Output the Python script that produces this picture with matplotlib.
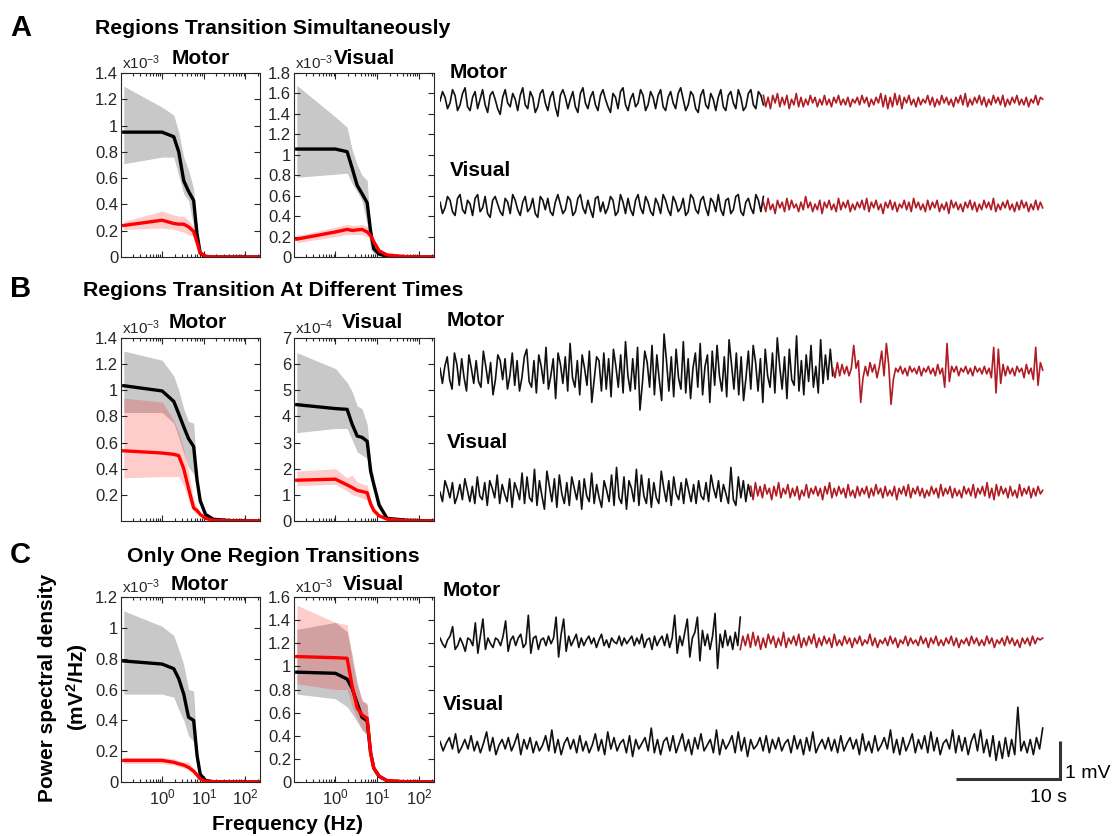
import numpy as np
import matplotlib
matplotlib.use('Agg')
import matplotlib.pyplot as plt
from matplotlib.ticker import LogLocator, NullFormatter

plt.rcParams['font.family'] = ['Liberation Sans', 'DejaVu Sans']
plt.rcParams['mathtext.fontset'] = 'custom'
plt.rcParams['mathtext.rm'] = 'Liberation Sans'
plt.rcParams['mathtext.it'] = 'Liberation Sans:italic'
plt.rcParams['mathtext.bf'] = 'Liberation Sans:bold'

# ---- PSD data (Hz, values in units of the x10^n label) ----
FREQ = [0.12, 1.0, 1.9, 2.5, 3.3, 4.3, 5.7, 6.9, 8.2, 11, 17, 50, 220]

# A - Motor (x1e-3)
A_MOT_K = [0.95, 0.95, 0.915, 0.80, 0.58, 0.50, 0.43, 0.17, 0.03, 0.005, 0, 0, 0]
A_MOT_K_HI = [1.30, 1.14, 1.08, 0.95, 0.76, 0.66, 0.52, 0.15, 0.03, 0.01, 0.003, 0, 0]
A_MOT_K_LO = [0.71, 0.76, 0.76, 0.62, 0.48, 0.43, 0.23, 0.05, 0.01, 0, 0, 0, 0]
A_MOT_R = [0.24, 0.28, 0.255, 0.25, 0.25, 0.23, 0.195, 0.11, 0.03, 0.005, 0, 0, 0]
A_MOT_R_HI = [0.27, 0.35, 0.32, 0.31, 0.31, 0.28, 0.23, 0.13, 0.04, 0.01, 0, 0, 0]
A_MOT_R_LO = [0.21, 0.22, 0.21, 0.20, 0.19, 0.17, 0.16, 0.09, 0.02, 0.002, 0, 0, 0]

# A - Visual (x1e-3)
A_VIS_K = [1.056, 1.056, 1.03, 0.87, 0.70, 0.62, 0.53, 0.25, 0.08, 0.03, 0.005, 0, 0]
A_VIS_K_HI = [1.68, 1.37, 1.27, 1.05, 0.90, 0.80, 0.75, 0.25, 0.10, 0.04, 0.01, 0, 0]
A_VIS_K_LO = [0.78, 0.81, 0.82, 0.72, 0.64, 0.55, 0.32, 0.08, 0.03, 0.01, 0, 0, 0]
A_VIS_R = [0.175, 0.245, 0.27, 0.26, 0.265, 0.27, 0.245, 0.21, 0.15, 0.06, 0.02, 0.003, 0]
A_VIS_R_HI = [0.21, 0.29, 0.32, 0.31, 0.31, 0.32, 0.30, 0.24, 0.17, 0.07, 0.025, 0.005, 0]
A_VIS_R_LO = [0.14, 0.20, 0.22, 0.22, 0.22, 0.22, 0.20, 0.18, 0.12, 0.05, 0.015, 0.002, 0]

# B - Motor (x1e-3)
B_MOT_K = [1.035, 0.995, 0.915, 0.82, 0.72, 0.63, 0.57, 0.31, 0.155, 0.05, 0.013, 0.002, 0]
B_MOT_K_HI = [1.30, 1.23, 1.11, 1.0, 0.86, 0.76, 0.75, 0.35, 0.17, 0.06, 0.015, 0.002, 0]
B_MOT_K_LO = [0.83, 0.83, 0.75, 0.64, 0.52, 0.41, 0.36, 0.26, 0.14, 0.04, 0.01, 0, 0]
B_MOT_R = [0.537, 0.52, 0.51, 0.50, 0.40, 0.25, 0.10, 0.08, 0.05, 0.02, 0.005, 0, 0]
B_MOT_R_HI = [0.94, 0.91, 0.77, 0.68, 0.55, 0.38, 0.16, 0.10, 0.06, 0.025, 0.006, 0, 0]
B_MOT_R_LO = [0.33, 0.34, 0.34, 0.34, 0.27, 0.16, 0.07, 0.06, 0.04, 0.015, 0.004, 0, 0]

# B - Visual (x1e-4)
B_VIS_K = [4.45, 4.30, 4.27, 3.7, 3.25, 3.2, 3.05, 1.9, 1.4, 0.6, 0.1, 0.03, 0]
B_VIS_K_HI = [6.44, 5.83, 5.3, 4.95, 4.4, 4.3, 3.7, 2.3, 1.6, 0.8, 0.15, 0.04, 0]
B_VIS_K_LO = [3.38, 3.54, 3.54, 3.1, 2.65, 2.52, 2.4, 1.6, 1.2, 0.45, 0.07, 0.02, 0]
B_VIS_R = [1.56, 1.60, 1.38, 1.28, 1.17, 1.13, 1.08, 0.65, 0.40, 0.20, 0.07, 0.01, 0]
B_VIS_R_HI = [1.91, 2.0, 1.65, 1.75, 1.5, 1.42, 1.37, 0.8, 0.55, 0.25, 0.09, 0.015, 0]
B_VIS_R_LO = [1.35, 1.40, 1.15, 1.0, 0.95, 0.88, 0.80, 0.5, 0.28, 0.15, 0.05, 0.005, 0]

# C - Motor (x1e-3)
C_MOT_K = [0.785, 0.765, 0.735, 0.67, 0.57, 0.42, 0.40, 0.17, 0.05, 0.01, 0.002, 0, 0]
C_MOT_K_HI = [1.11, 1.01, 0.95, 0.86, 0.76, 0.60, 0.59, 0.2, 0.06, 0.015, 0.003, 0, 0]
C_MOT_K_LO = [0.57, 0.57, 0.55, 0.47, 0.40, 0.30, 0.26, 0.12, 0.04, 0.005, 0, 0, 0]
C_MOT_R = [0.14, 0.14, 0.128, 0.118, 0.11, 0.095, 0.07, 0.045, 0.02, 0.005, 0.002, 0, 0]
C_MOT_R_HI = [0.16, 0.16, 0.15, 0.14, 0.13, 0.13, 0.09, 0.055, 0.025, 0.007, 0.002, 0, 0]
C_MOT_R_LO = [0.12, 0.12, 0.11, 0.10, 0.09, 0.08, 0.055, 0.035, 0.015, 0.004, 0.001, 0, 0]

# C - Visual (x1e-3)
C_VIS_K = [0.95, 0.94, 0.89, 0.81, 0.68, 0.56, 0.53, 0.25, 0.12, 0.05, 0.01, 0, 0]
C_VIS_K_HI = [1.32, 1.38, 1.30, 1.1, 0.85, 0.70, 0.68, 0.3, 0.14, 0.06, 0.015, 0, 0]
C_VIS_K_LO = [0.76, 0.72, 0.65, 0.59, 0.52, 0.45, 0.41, 0.15, 0.08, 0.03, 0.005, 0, 0]
C_VIS_R = [1.085, 1.075, 1.07, 0.83, 0.64, 0.58, 0.55, 0.25, 0.12, 0.05, 0.012, 0.002, 0]
C_VIS_R_HI = [1.53, 1.38, 1.36, 1.05, 0.85, 0.72, 0.66, 0.3, 0.14, 0.06, 0.015, 0.003, 0]
C_VIS_R_LO = [0.85, 0.80, 0.80, 0.65, 0.55, 0.46, 0.40, 0.2, 0.10, 0.04, 0.008, 0.001, 0]

# ---- LFP traces, values in units of 0.05 mV; segment lengths in s ----
UNIT_MV = 0.05

A_MOT_BLACK = [0, 5, 2, -4, -1, 6, 3, -5, -2, 4, 7, -3, -5, 2, 5, -4, 1, 6, -2, -6, 3, 5, 1, -4, -7, 2,
               6, -1, -3, 4, 1, -5, 3, 7, -2, -4, 5, 2, -6, -3, 4, 6, -1, -5, 2, 5, -3, -8, 3, 6, 2, -4,
               1, 5, -3, -6, 4, 7, -1, -4, 2, 5, -2, -5, 3, 6, 1, -3, -6, 4, 2, -4, 5, 7, -2, -5, 1, 4,
               -3, -1, 6, 3, -5, -2, 5, 2, -4, 3, 6, -3, -5, 2, 5, -1, -4, 4, 7, 1, -5, -2, 5, 3, -4,
               -6, 3, 6, -2, -4, 4, 1, -5, 2, 6, -3, -5, 3, 5, -1, -4, 6, 2, -5, -3, 4, 6, -2, -4, 5, 3, -2]
A_MOT_RED = [3, -3, 2, -4, 3, -1, 4, -3, 2, -2, 3, -4, 1, -2, 4, -3, 2, -3, 1, -2, 3, -1, 2, -3, 1, -2,
             3, -2, 1, -3, 2, -1, 3, -2, 1, -2, 2, -3, 1, -1, 2, -2, 3, -1, 2, -3, 1, -2, 2, -1, 4, -3,
             3, -4, 2, -3, 4, -2, 3, -4, 2, -1, 3, -2, 1, -3, 2, -2, 1, -1, 3, -2, 2, -3, 1, -2, 3, -1,
             2, -2, 1, -3, 2, -1, 3, -2, 4, -3, 1, -2, 2, -1, 3, -2, 2, -3, 1, -2, 3, -1, 2, -2, 3, -3,
             1, -2, 2, -1, 3, -2, 1, -2, 2, -3, 1, -1, 3, -2, 2, 1]
A_VIS_BLACK = [2, -4, -1, 5, 3, -3, -5, 4, 6, -2, -4, 3, 1, -5, 4, 6, -3, -1, 5, -4, -6, 3, 5, 1, -3, -5,
               4, 2, -4, 6, 3, -2, -5, 2, 5, -3, -1, 4, -4, -6, 5, 3, -2, 4, -3, -5, 2, 6, 1, -4, -2, 5,
               3, -5, -3, 4, 6, -1, -4, 3, -2, -6, 4, 5, -3, 2, -4, -1, 5, 3, -5, -3, 6, 2, -4, 4, -2,
               -5, 3, 6, -1, -4, 5, 2, -3, -5, 4, 1, -4, 6, 3, -2, -5, 5, 2, -3, -1, 4, -5, -3, 6, 4,
               -2, -4, 3, 5, -1, -5, 4, 2, -3, 6, -2, -5, 3, 4, -4, -2, 5, 6, -3, -5, 2, 4, -1, -4, 6, 3, -3, 5]
A_VIS_RED = [2, -3, 4, -2, 1, -4, 3, -1, 2, -3, 4, -2, 3, -1, 1, -3, 2, -2, 5, -1, 2, -3, 1, -2, 3, -4,
             2, -1, 3, -2, 1, -3, 4, -2, 2, -1, 3, -3, 1, -2, 2, -1, 3, -2, 4, -3, 2, -1, 3, -2, 1, -4,
             2, -1, 3, -2, 2, -3, 1, -1, 3, -2, 2, -3, 4, -1, 2, -2, 1, -3, 3, -2, 2, -1, 3, -3, 1, -2,
             2, -4, 3, -1, 2, -2, 1, -3, 2, -1, 3, -2, 2, -3, 1, -2, 3, -1, 2, -2, 4, -3, 1, -2, 2, -1,
             3, -2, 1, -3, 2, -2, 3, -1, 2, -3, 1, -2, 3, -2, 2, -1]
A_SEG = [30.8, 26.6]

B_MOT_BLACK = [2, -6, 3, 8, -4, -9, 10, 4, -7, 7, -3, -10, 9, 2, -6, 6, -5, -8, 11, 3, -6, 5, -12, -4, 9,
               6, -4, 7, -9, -2, 10, -7, 6, -10, -3, 8, 12, -5, -8, 6, -11, 9, 3, -6, 13, -9, -2, 7, -14,
               10, 4, -6, 8, -10, 15, -3, -8, 6, -12, 9, 2, -7, 11, -16, -4, 8, 6, -10, 10, -9, 7, -13,
               12, 3, -8, 9, -11, 16, -2, -10, 7, -9, 13, -20, -6, 11, 5, -8, 14, -12, 9, -4, -15, 20, 6,
               -10, 8, -13, 12, -3, -9, 16, -11, 7, -14, 2, 10, -8, 15, -12, 3, 9, -16, 11, -7, 14, -2,
               -10, 8, -13, 17, 4, -9, 10, -12, 8, -15, -3, 11, -9, 14, 5, -10, 7, -16, 12, -2, -8, 10,
               -11, 18, 3, -9, 8, -14, 12, -4, -7, 19, -10, 6, -12, 9, -5, 14, -8, 3, -11, 17, -6, 9, -4,
               12, -2]
B_MOT_RED = [2, -3, 5, -2, 4, -1, 3, -2, 2, 14, 2, 6, -16, -3, 3, -2, 5, 0, 4, -3, 3, 11, -2, 15, 4, -17,
             -4, 2, 0, 3, -1, 2, -2, 3, 0, 2, -1, 3, -2, 2, 0, 3, -1, 2, -2, 4, -1, 2, -8, 15, -5, 3, 0,
             3, -2, 2, 0, 3, -1, 2, -2, 3, 0, 2, -1, 3, -1, 2, -3, 13, -11, 12, -6, 4, -2, 3, -1, 2, -2,
             3, 0, 2, -3, 4, -1, 2, -4, 13, -7, 5, 1]
B_MOT_SEG = [37.4, 20.0]

B_VIS_BLACK = [0, -5, 6, 2, -3, 5, -6, -2, 4, -4, 7, 1, -5, 3, -6, 8, -2, -4, 5, -7, 6, 2, -3, 9, -6, 4,
               -1, -5, 7, -8, 5, 1, -4, 10, -6, 8, -3, -5, 12, -7, 6, -2, -9, 11, 3, -5, 7, -8, 9, -1,
               -6, 5, -7, 8, 2, -4, 6, -9, 7, -2, -5, 10, -6, 4, -3, -8, 6, 1, -5, 9, -7, 13, -3, -6,
               8, -9, 6, 2, -5, 12, -7, 9, -2, -6, 7, -8, 5, -3, -6, 11, 2, -5, 6, -7, 8, -1, -4, 5,
               -6, 7, 1, -5, 4, -6, 6, -2, -4, 5, -5, 9, 2, -3, 6, -5, 4, -1, -6, 13, -4, -7, 8, -3,
               6, -5, 4, -2]
B_VIS_RED = [3, -4, 5, -2, 3, -3, 4, -1, 2, -4, 3, -2, 5, -3, 2, -1, 4, -3, 2, -2, 3, -4, 1, -2, 4, -3,
             2, -1, 3, -2, 2, -4, 3, -1, 5, -3, 2, -2, 3, -1, 2, -3, 4, -2, 1, -3, 3, -2, 2, -1, 3, -3,
             2, -2, 4, -1, 2, -3, 3, -2, 1, -2, 3, -4, 2, -1, 3, -2, 4, -3, 2, -1, 3, -2, 2, -3, 1, -2,
             3, -1, 2, -3, 4, -2, 2, -1, 3, -3, 2, -2, 1, -3, 3, -1, 2, -2, 4, -3, 2, -1, 3, -2, 5, -3,
             2, -4, 4, -2, 3, -1, 2, -3, 3, -2, 1, -3, 4, -2, 2, -1, 3, -3, 2, -2, 3, -1, 1]
B_VIS_SEG = [29.6, 27.8]

C_MOT_BLACK = [2, -1, -3, 1, 3, 8, -4, -2, 2, -1, -5, 2, 1, -2, 10, -6, 3, 12, -4, 2, -1, -3, 2, 1, -2,
               3, 11, -5, 1, 3, -2, 2, 4, -3, -1, 14, -6, 2, 3, -4, 1, 2, -2, 3, -1, 2, 13, -8, 4, 12,
               -5, 3, -2, 1, 4, -3, 2, -2, 1, 3, -1, 2, -3, 1, 4, -2, 1, -3, 2, 0, -1, 3, -2, 2, -1, 1,
               3, -2, 2, -1, 4, -3, 1, 2, -4, 3, -2, 1, 3, -2, 4, -3, 2, 14, -6, 3, -2, 5, 12, -8, 2, 5,
               13, -10, 6, -2, 4, -4, 3, 15, -14, 4, -3, 6, -2, 3, -4, 5, -2, 13]
C_MOT_RED = [-4, 3, -2, 4, -3, 5, -2, 3, -4, 2, -3, 4, -1, 3, -3, 2, -2, 5, -3, 2, -1, 3, -2, 4, -3, 2,
             -2, 3, -1, 4, -3, 2, -2, 3, -1, 2, -3, 4, -2, 1, -2, 3, -1, 2, -3, 2, -1, 3, -2, 1, -1, 4,
             -2, 2, -3, 1, -1, 2, -2, 3, -1, 2, -3, 1, -1, 3, -2, 2, -1, 1, -2, 3, -1, 2, -3, 2, -1, 3,
             -2, 1, -2, 2, -1, 3, -2, 2, -3, 1, -1, 2, -2, 3, -1, 2, -2, 1, -2, 3, -1, 2, -3, 1, -1, 2,
             -2, 3, -1, 2, -2, 1, -3, 2, -1, 2, -2, 3, -1, 2, 1, 2]
C_MOT_SEG = [28.6, 28.8]

C_VIS_BLACK = [2, -3, 1, 4, -2, 6, -4, -1, 3, -2, 5, -3, 2, -4, 1, 7, -3, 4, -5, 0,
               3, -2, 4, -3, 1, 6, -5, 3, -2, 4, -4, 2, -3, 0, 5, -3, 8, -4, 3, -5,
               1, 4, -2, 3, -4, 5, -3, 2, -4, 0, 6, -3, 3, -5, 7, -2, 4, -3, 1, 3,
               -4, 5, -6, 3, -2, 1, 4, -3, 9, -4, 3, -5, 2, 4, -3, 5, -4, 1, 6, -3,
               3, -5, 4, -2, 6, -3, 0, 3, -4, 8, -5, 3, -2, 1, 5, -4, 7, -3, 4, -6,
               3, -2, 0, 4, -3, 5, -4, 3, -2, 4, -3, 1, 3, -4, 5, -2, 3, -5, 4, -3,
               7, -4, 0, 3, -2, 4, -3, 3, -4, 5, -3, 1, 4, -2, 3, -5, 6, -3, 2, -4,
               5, -3, 0, 4, -2, 8, -4, 3, -5, 4, -3, 1, 6, -4, 3, -2, 5, -4, 7, -3,
               4, -5, 1, 3, -2, 8, -4, 5, -3, 4, -5, 2, 6, -3, 8, -4, 3, -6, 5, -8,
               2, -7, 4, -6, 3, -5, 20, -3, 2, -4, 3, -5, 4, -2, 9]
C_VIS_SEG = [57.4]

BLACK = '#111111'
DARKRED = '#b01c24'

W, H = 1114, 836


def px_rect(l, t, r, b):
    return [l / W, 1 - b / H, (r - l) / W, (b - t) / H]


def fig_text(fig, x, y, s, **kw):
    fig.text(x / W, 1 - y / H, s, **kw)


def draw_psd(ax, k, k_lo, k_hi, r, r_lo, r_hi, ymax, yticks, exp, xlabels):
    ax.fill_between(FREQ, k_lo, k_hi, color='#c8c8c8', lw=0)
    ax.fill_between(FREQ, r_lo, r_hi, color='#ff0000', alpha=0.2, lw=0)
    ax.plot(FREQ, k, color='black', lw=2.4)
    ax.plot(FREQ, r, color='#ff0000', lw=2.4)
    ax.set_xscale('log')
    ax.set_xlim(0.103, 223)
    ax.set_ylim(0, ymax)
    ax.xaxis.set_major_locator(LogLocator(base=10, numticks=10))
    ax.xaxis.set_minor_locator(LogLocator(base=10, subs=np.arange(2, 10), numticks=20))
    ax.xaxis.set_minor_formatter(NullFormatter())
    ax.set_yticks(yticks)
    ax.set_yticklabels([f'{v:g}' for v in yticks])
    ax.tick_params(which='both', direction='in', top=True, right=True,
                   labelsize=12, colors='#262626', width=0.8)
    ax.tick_params(which='major', length=4)
    ax.tick_params(which='minor', length=2)
    ax.tick_params(axis='y', pad=2)
    ax.tick_params(axis='x', labelbottom=xlabels, pad=4)
    for sp in ax.spines.values():
        sp.set_color('#262626')
        sp.set_linewidth(0.8)
    ax.text(0.01, 1.005, f'x10$^{{{exp}}}$', transform=ax.transAxes,
            ha='left', va='bottom', fontsize=11, color='#262626')


def draw_trace(ax, segs, base):
    t0 = 0.0
    for vals, dur, col in segs:
        t = np.linspace(t0, t0 + dur, len(vals))
        ax.plot(t, base + np.array(vals) * UNIT_MV, color=col, lw=1.2)
        t0 += dur


fig = plt.figure(figsize=(W / 100, H / 100), dpi=100)

# panel letters and headings
for letter, head, y, hx in [('A', 'Regions Transition Simultaneously', 28, 95),
                            ('B', 'Regions Transition At Different Times', 289, 83),
                            ('C', 'Only One Region Transitions', 555, 127)]:
    fig_text(fig, 10, y, letter, fontsize=21, fontweight='bold', va='center')
    fig_text(fig, hx, y + 1, head, fontsize=15.3, fontweight='bold', va='center')

# PSD panels
rows = [
    (73, 257, (A_MOT_K, A_MOT_K_LO, A_MOT_K_HI, A_MOT_R, A_MOT_R_LO, A_MOT_R_HI, 1.4,
               np.arange(0, 1.41, 0.2), -3),
     (A_VIS_K, A_VIS_K_LO, A_VIS_K_HI, A_VIS_R, A_VIS_R_LO, A_VIS_R_HI, 1.8,
      np.arange(0, 1.81, 0.2), -3), 58, (201, 364)),
    (338, 521, (B_MOT_K, B_MOT_K_LO, B_MOT_K_HI, B_MOT_R, B_MOT_R_LO, B_MOT_R_HI, 1.4,
                np.arange(0.2, 1.41, 0.2), -3),
     (B_VIS_K, B_VIS_K_LO, B_VIS_K_HI, B_VIS_R, B_VIS_R_LO, B_VIS_R_HI, 7,
      np.arange(0, 7.1, 1), -4), 322, (198, 372)),
    (597, 782, (C_MOT_K, C_MOT_K_LO, C_MOT_K_HI, C_MOT_R, C_MOT_R_LO, C_MOT_R_HI, 1.2,
                np.arange(0, 1.21, 0.2), -3),
     (C_VIS_K, C_VIS_K_LO, C_VIS_K_HI, C_VIS_R, C_VIS_R_LO, C_VIS_R_HI, 1.6,
      np.arange(0, 1.61, 0.2), -3), 584, (200, 373)),
]
for i, (top, bot, mot, vis, ty, (mx, vx)) in enumerate(rows):
    last = i == len(rows) - 1
    ax_m = fig.add_axes(px_rect(121, top, 260, bot))
    draw_psd(ax_m, *[np.round(v, 3) if isinstance(v, np.ndarray) else v for v in mot], last)
    ax_v = fig.add_axes(px_rect(294, top, 434, bot))
    draw_psd(ax_v, *[np.round(v, 3) if isinstance(v, np.ndarray) else v for v in vis], last)
    fig_text(fig, mx, ty, 'Motor', fontsize=15, fontweight='bold', ha='center', va='center')
    fig_text(fig, vx, ty, 'Visual', fontsize=15, fontweight='bold', ha='center', va='center')

fig_text(fig, 48, 688, 'Power spectral density', fontsize=15, fontweight='bold',
         rotation=90, ha='center', va='center')
fig_text(fig, 77, 687, r'(mV$^\mathbf{2}$/Hz)', fontsize=15, fontweight='bold',
         rotation=90, ha='center', va='center')
fig_text(fig, 288, 825, 'Frequency (Hz)', fontsize=15, fontweight='bold', ha='center', va='center')

# traces: 10.5 px per s, 38 px per mV
ax_t = fig.add_axes(px_rect(440, 60, 1114, 836))
ax_t.set_xlim(0, 674 / 10.5)
ax_t.set_ylim(0, 776 / 38)
ax_t.axis('off')

draw_trace(ax_t, [(A_MOT_BLACK, A_SEG[0], BLACK), (A_MOT_RED, A_SEG[1], DARKRED)], 19.34)
draw_trace(ax_t, [(A_VIS_BLACK, A_SEG[0], BLACK), (A_VIS_RED, A_SEG[1], DARKRED)], 16.58)
draw_trace(ax_t, [(B_MOT_BLACK, B_MOT_SEG[0], BLACK), (B_MOT_RED, B_MOT_SEG[1], DARKRED)], 12.21)
draw_trace(ax_t, [(B_VIS_BLACK, B_VIS_SEG[0], BLACK), (B_VIS_RED, B_VIS_SEG[1], DARKRED)], 9.05)
draw_trace(ax_t, [(C_MOT_BLACK, C_MOT_SEG[0], BLACK), (C_MOT_RED, C_MOT_SEG[1], DARKRED)], 5.11)
draw_trace(ax_t, [(C_VIS_BLACK, C_VIS_SEG[0], BLACK)], 2.39)

for x, y, s in [(450, 73, 'Motor'), (450, 170, 'Visual'), (447, 321, 'Motor'),
                (447, 443, 'Visual'), (443, 590, 'Motor'), (443, 705, 'Visual')]:
    fig_text(fig, x, y, s, fontsize=15, fontweight='bold', va='center')

# scale bar: 10 s, 1 mV
ax_t.plot([49.14, 59.05, 59.05], [1.5, 1.5, 2.5], color='#333333', lw=2.2,
          solid_joinstyle='miter', solid_capstyle='butt')
fig_text(fig, 1065, 773, '1 mV', fontsize=14, va='center')
fig_text(fig, 1049, 798, '10 s', fontsize=14, ha='center', va='center')

fig.savefig('out.png', dpi=100)
